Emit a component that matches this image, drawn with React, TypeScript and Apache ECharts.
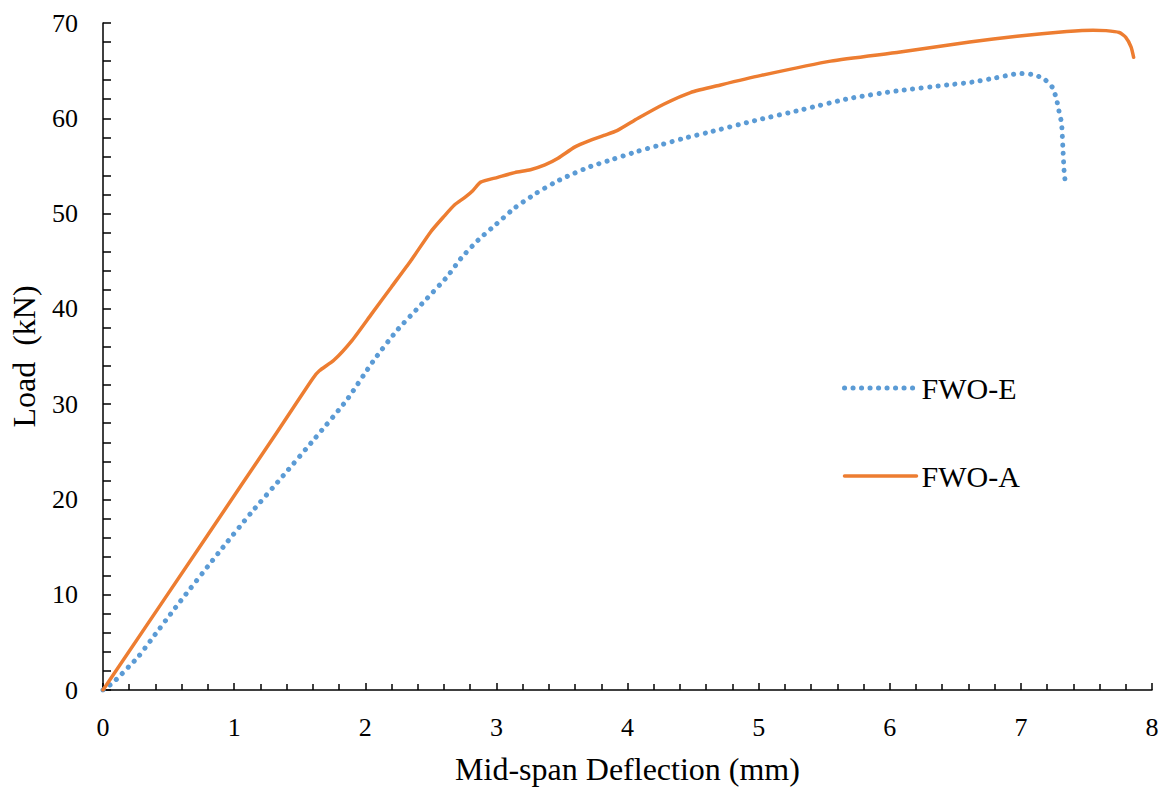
import React, { useEffect, useRef } from "react";
import * as echarts from "echarts";

const xTicks = [0, 1, 2, 3, 4, 5, 6, 7, 8];
const yTicks = [0, 10, 20, 30, 40, 50, 60, 70];

const seriesNames = ["FWO-E", "FWO-A"];

const fwoE_x = [0, 0.07, 0.137, 0.2, 0.27, 0.38, 0.55, 0.893, 1.13, 1.375, 1.616, 1.857, 2.06, 2.24, 2.43, 2.62, 2.73, 2.86, 3.0, 3.14, 3.3, 3.45, 3.54, 3.71, 3.89, 4.07, 4.25, 4.43, 4.61, 4.97, 5.33, 5.7, 6.07, 6.44, 6.63, 6.81, 6.9, 6.99, 7.08, 7.17, 7.24, 7.27, 7.29, 7.31, 7.32, 7.33, 7.34];
const fwoE_y = [0, 0.7, 1.6, 2.5, 3.5, 5.5, 8.6, 14.6, 18.6, 22.5, 26.4, 30.4, 34.5, 37.7, 40.5, 43.3, 45.3, 47.2, 48.9, 50.6, 52.1, 53.3, 53.9, 54.9, 55.7, 56.5, 57.2, 57.9, 58.5, 59.75, 60.9, 62.1, 62.9, 63.5, 63.8, 64.25, 64.5, 64.7, 64.6, 64.2, 63.25, 62.1, 60.8, 59.5, 57.0, 54.4, 53.15];

const fwoA_x = [0, 0.8, 1.3, 1.6, 1.65, 1.76, 1.9, 2.05, 2.2, 2.35, 2.5, 2.6, 2.68, 2.76, 2.82, 2.88, 3.01, 3.14, 3.26, 3.37, 3.47, 3.6, 3.72, 3.82, 3.92, 4.08, 4.28, 4.48, 4.71, 5.02, 5.55, 6.08, 6.61, 6.97, 7.35, 7.55, 7.65, 7.75, 7.8, 7.84, 7.86];
const fwoA_y = [0, 16.3, 26.5, 32.7, 33.5, 34.6, 36.7, 39.5, 42.3, 45.1, 48.1, 49.7, 50.9, 51.7, 52.4, 53.3, 53.8, 54.3, 54.6, 55.1, 55.8, 57.0, 57.7, 58.2, 58.7, 60.0, 61.5, 62.7, 63.5, 64.5, 66.0, 66.95, 68.0, 68.6, 69.1, 69.25, 69.2, 69.0, 68.5, 67.5, 66.4];

const FONT = "'Liberation Serif', 'Times New Roman', serif";
const BLUE = "#5B9BD5";
const ORANGE = "#ED7D31";
const dotLine = { color: BLUE, width: 5, type: [0.1, 8.4], cap: "round", join: "round" };
const solidLine = { color: ORANGE, width: 3.5, type: "solid", cap: "round", join: "round" };

export default function App() {
  const ref = useRef<HTMLDivElement>(null);
  useEffect(() => {
    if (!ref.current) return;
    const chart = echarts.init(ref.current, undefined, { renderer: "svg" });
    const pairs = (xs: number[], ys: number[]) => xs.map((x, i) => [x, ys[i]]);
    chart.setOption({
      animation: false,
      backgroundColor: "#ffffff",
      grid: { left: 101, right: 10, top: 23, bottom: 100, containLabel: false },
      legend: {
        orient: "vertical",
        left: 837,
        top: 368,
        itemWidth: 72,
        itemHeight: 30,
        itemGap: 58,
        itemStyle: { opacity: 0, borderWidth: 0 },
        textStyle: { fontFamily: FONT, fontSize: 30, color: "#000" },
        data: [
          { name: seriesNames[0], lineStyle: dotLine },
          { name: seriesNames[1], lineStyle: solidLine },
        ],
      },
      xAxis: {
        type: "value",
        min: xTicks[0],
        max: xTicks[xTicks.length - 1],
        interval: 1,
        name: "Mid-span Deflection (mm)",
        nameLocation: "middle",
        nameGap: 63,
        nameTextStyle: { fontFamily: FONT, fontSize: 32, color: "#000" },
        axisLine: { lineStyle: { color: "#000", width: 1.5 } },
        axisTick: { inside: true, length: 7, lineStyle: { color: "#000", width: 1.5 } },
        minorTick: { show: true, splitNumber: 5, length: 6, lineStyle: { color: "#000", width: 1.5 } },
        axisLabel: { fontFamily: FONT, fontSize: 26, color: "#000", margin: 24 },
        splitLine: { show: false },
      },
      yAxis: {
        type: "value",
        min: yTicks[0],
        max: yTicks[yTicks.length - 1],
        interval: 10,
        name: "Load  (kN)",
        nameLocation: "middle",
        nameGap: 63,
        nameTextStyle: { fontFamily: FONT, fontSize: 32, color: "#000" },
        axisLine: { show: true, lineStyle: { color: "#000", width: 1.5 } },
        axisTick: { show: true, inside: true, length: 8, lineStyle: { color: "#000", width: 1.5 } },
        minorTick: { show: true, splitNumber: 5, length: 8, lineStyle: { color: "#000", width: 1.5 } },
        axisLabel: { fontFamily: FONT, fontSize: 26, color: "#000", margin: 25 },
        splitLine: { show: false },
      },
      series: [
        {
          name: seriesNames[0],
          type: "line",
          data: pairs(fwoE_x, fwoE_y),
          showSymbol: false,
          symbol: "none",
          smooth: 0.2,
          color: BLUE,
          lineStyle: dotLine,
          z: 2,
        },
        {
          name: seriesNames[1],
          type: "line",
          data: pairs(fwoA_x, fwoA_y),
          showSymbol: false,
          symbol: "none",
          smooth: 0.2,
          color: ORANGE,
          lineStyle: solidLine,
          z: 3,
        },
      ],
    });
    return () => chart.dispose();
  }, []);
  return <div ref={ref} style={{ width: 1162, height: 790, position: "absolute", left: 0, top: 0 }} />;
}
